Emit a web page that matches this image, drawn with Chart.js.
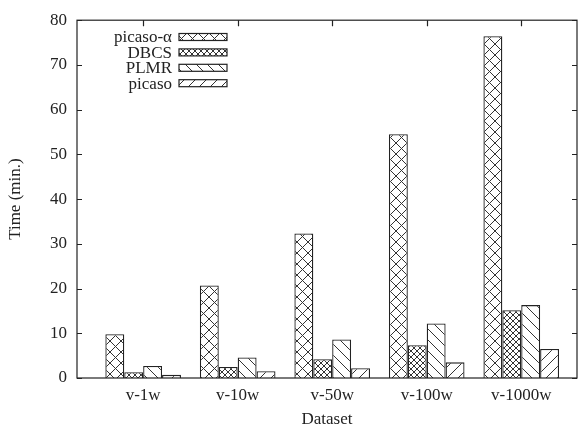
<!DOCTYPE html>
<html><head><meta charset="utf-8">
<script src="https://cdn.jsdelivr.net/npm/chart.js@4/dist/chart.umd.min.js"></script>
<style>html,body{margin:0;padding:0;background:#fff}#wrap{width:584px;height:430px}</style>
</head><body><div id="wrap"><canvas id="c" width="584" height="430"></canvas></div>
<script>
const categories = ['v-1w', 'v-10w', 'v-50w', 'v-100w', 'v-1000w'];
const seriesNames = ['picaso-\u03B1', 'DBCS', 'PLMR', 'picaso'];
const picasoAlpha = [9.8, 20.7, 32.3, 54.5, 76.4];
const dbcs = [1.3, 2.45, 4.2, 7.35, 15.15];
const plmr = [2.7, 4.6, 8.6, 12.2, 16.3];
const picaso = [0.7, 1.5, 2.2, 3.5, 6.5];
const yTicks = [0, 10, 20, 30, 40, 50, 60, 70, 80];

const INK = '#222';
const FONT = "'Liberation Serif', 'DejaVu Serif', serif";

function makePattern(kind, p) {
  const t = document.createElement('canvas');
  t.width = p; t.height = p;
  const g = t.getContext('2d');
  g.fillStyle = '#fff'; g.fillRect(0, 0, p, p);
  g.strokeStyle = '#333'; g.lineWidth = 1;
  g.beginPath();
  if (kind === 'x' || kind === 'b') { g.moveTo(-1, -1); g.lineTo(p + 1, p + 1); }
  if (kind === 'x' || kind === 'f') { g.moveTo(p + 1, -1); g.lineTo(-1, p + 1); }
  g.stroke();
  return g.createPattern(t, 'repeat');
}
const fills = [makePattern('x', 11), makePattern('x', 6), makePattern('b', 11), makePattern('f', 11)];
const seriesValues = [picasoAlpha, dbcs, plmr, picaso];

const datasets = seriesNames.map((name, s) => ({
  label: name,
  data: categories.map((c, i) => ({ x: i, y: seriesValues[s][i] })),
  backgroundColor: fills[s],
  borderColor: INK,
  borderWidth: 1.3,
  categoryPercentage: 0.8,
  barPercentage: 1.0
}));

const framePlugin = {
  id: 'frame',
  afterDraw(chart) {
    const { ctx, chartArea: a, scales } = chart;
    ctx.save();
    ctx.strokeStyle = INK; ctx.lineWidth = 1.2;
    ctx.strokeRect(a.left, a.top, a.right - a.left, a.bottom - a.top);
    ctx.beginPath();
    yTicks.forEach(v => {
      const y = Math.round(scales.y.getPixelForValue(v)) + 0.5;
      ctx.moveTo(a.left, y); ctx.lineTo(a.left + 5, y);
      ctx.moveTo(a.right, y); ctx.lineTo(a.right - 5, y);
    });
    categories.forEach((c, i) => {
      const x = Math.round(scales.x.getPixelForValue(i)) + 0.5;
      ctx.moveTo(x, a.top); ctx.lineTo(x, a.top + 6);
    });
    ctx.stroke();
    // legend
    ctx.font = '17px ' + FONT;
    ctx.textAlign = 'right'; ctx.textBaseline = 'middle';
    chart.data.datasets.forEach((ds, i) => {
      const y = 37 + i * 15.4;
      ctx.fillStyle = INK;
      ctx.fillText(ds.label, 172, y + 1);
      ctx.fillStyle = ds.backgroundColor;
      ctx.fillRect(179, y - 3.5, 48, 7);
      ctx.lineWidth = 1.2; ctx.strokeStyle = INK;
      ctx.strokeRect(179, y - 3.5, 48, 7);
    });
    ctx.restore();
  }
};

new Chart(document.getElementById('c'), {
  type: 'bar',
  data: { datasets },
  options: {
    responsive: false,
    animation: false,
    events: [],
    layout: { padding: { left: 5, right: 7, top: 19, bottom: 0 } },
    plugins: { legend: { display: false }, tooltip: { enabled: false } },
    scales: {
      x: {
        type: 'linear',
        offset: false,
        min: -0.7, max: 4.59,
        grid: { display: false, drawTicks: false, offset: false },
        border: { display: false },
        ticks: {
          stepSize: 1, includeBounds: false, autoSkip: false, maxRotation: 0,
          padding: 7, color: INK, font: { family: FONT, size: 17 },
          callback: v => (Number.isInteger(v) && categories[v]) ? categories[v] : ''
        },
        title: { display: true, text: 'Dataset', color: INK, font: { family: FONT, size: 17 }, padding: 0 },
        afterFit: s => { s.height = 52; }
      },
      y: {
        min: 0, max: 80,
        grid: { display: false, drawTicks: false },
        border: { display: false },
        afterBuildTicks: s => { s.ticks = yTicks.map(v => ({ value: v })); },
        ticks: { padding: 10, color: INK, font: { family: FONT, size: 17 } },
        title: { display: true, text: 'Time (min.)', color: INK, font: { family: FONT, size: 17 }, padding: 0 },
        afterFit: s => { s.width = 72; }
      }
    }
  },
  plugins: [framePlugin]
});
</script></body></html>
